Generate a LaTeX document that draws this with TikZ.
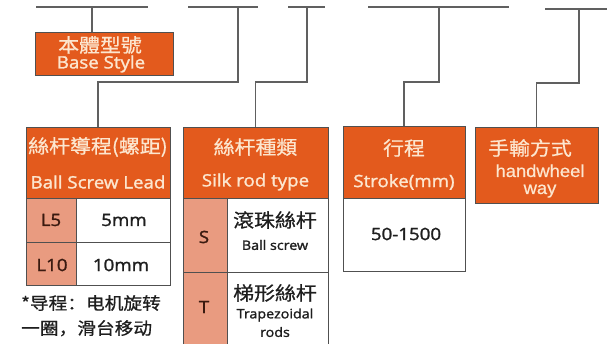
\documentclass[tikz,border=0pt]{standalone}
\usepackage{fontspec}
\setmainfont{Open Sans}[FakeStretch=1.1, FakeBold=1.6]
\newfontfamily\cjk{Noto Sans CJK TC}[FakeStretch=1.1, FakeBold=0.8]
\newfontfamily\cjksc{Noto Sans CJK SC}[FakeStretch=1.1, FakeBold=0.8]
\newfontfamily\arialf{Liberation Sans}[FakeStretch=1.05, FakeBold=0.6]
\definecolor{hdrorange}{HTML}{E35A1D}
\definecolor{keypink}{HTML}{E99B80}
\definecolor{hdrtext}{HTML}{FCE6CF}
\definecolor{edgegray}{HTML}{505050}
\definecolor{linegray}{HTML}{606060}
\definecolor{inktext}{HTML}{1E1E1E}
\definecolor{keytext}{HTML}{3A1A10}
\tikzset{
  conn/.style={draw=linegray, line width=1.1pt},
  boxbase/.style={rectangle, anchor=north west, inner sep=0pt, outer sep=0pt, draw=edgegray, line width=0.9pt},
  hdrbox/.style={boxbase, fill=hdrorange},
  keybox/.style={boxbase, fill=keypink},
  valbox/.style={boxbase, fill=white},
  cjkhdr/.style={text=hdrtext, font=\cjk\fontsize{19}{22}\selectfont, inner sep=0pt},
  enhdr/.style={text=hdrtext, font=\fontsize{17}{20}\selectfont, inner sep=0pt},
  keytxt/.style={text=keytext, font=\fontsize{17}{20}\selectfont, inner sep=0pt},
  valtxt/.style={text=inktext, font=\fontsize{17}{20}\selectfont, inner sep=0pt},
  cjkval/.style={text=inktext, font=\cjk\fontsize{19}{22}\selectfont, inner sep=0pt},
  smallval/.style={text=inktext, font=\fontsize{13}{15}\selectfont, inner sep=0pt},
  handtxt/.style={text=hdrtext, font=\arialf\fontsize{17.5}{16}\selectfont, inner sep=0pt},
}
\begin{document}
\begin{tikzpicture}[x=1pt,y=-1pt]
\useasboundingbox (0,0) rectangle (607,344);

% ---- boxes ----
\node[hdrbox, minimum width=138pt, minimum height=43pt] (base) at (35,32) {};
\node[hdrbox, minimum width=144pt, minimum height=71pt] (lead) at (26,127) {};
\node[keybox, minimum width=50pt, minimum height=44pt] (l5k) at (26,198) {};
\node[valbox, minimum width=94pt, minimum height=44pt] (l5v) at (76,198) {};
\node[keybox, minimum width=50pt, minimum height=43pt] (l10k) at (26,242) {};
\node[valbox, minimum width=94pt, minimum height=43pt] (l10v) at (76,242) {};

\node[hdrbox, minimum width=145pt, minimum height=71pt] (silk) at (183,127) {};
\node[keybox, minimum width=44pt, minimum height=74pt] (sk) at (183,198) {};
\node[valbox, minimum width=101pt, minimum height=74pt] (sv) at (227,198) {};
\node[keybox, minimum width=44pt, minimum height=74pt] (tk) at (183,272) {};
\node[valbox, minimum width=101pt, minimum height=74pt] (tv) at (227,272) {};

\node[hdrbox, minimum width=122pt, minimum height=72pt] (stroke) at (343,126) {};
\node[valbox, minimum width=122pt, minimum height=73pt] (strokev) at (343,198) {};

\node[hdrbox, minimum width=123pt, minimum height=76pt] (hand) at (475,127) {};

% ---- texts ----
\node[cjkhdr] (basecn) at (100,45) {本體型號};
\node[enhdr] (baseen) at (101,64) {Base Style};

\node[cjkhdr] (leadcn) at (98,147) {絲杆導程(螺距)};
\node[enhdr] (leaden) at (98,182) {Ball Screw Lead};
\node[keytxt] (l5t) at (51,220) {L5};
\node[valtxt] (l5vt) at (124,220) {5mm};
\node[keytxt] (l10t) at (52,265) {L10};
\node[valtxt] (l10vt) at (121,265) {10mm};

\node[cjkhdr] (silkcn) at (255.5,147) {絲杆種類};
\node[enhdr] (silken) at (255.5,182) {Silk rod type};
\node[keytxt] (st) at (204,237) {S};
\node[cjkval] (scn) at (275,220) {滾珠絲杆};
\node[smallval] (sen) at (275,245) {Ball screw};
\node[keytxt] (tt) at (204,307) {T};
\node[cjkval] (tcn) at (275,293) {梯形絲杆};
\node[smallval] (ten) at (275,315) {Trapezoidal};
\node[smallval] (ten2) at (275,332) {rods};

\node[cjkhdr] (strokecn) at (404,148) {行程};
\node[enhdr] (strokeen) at (404,182) {Stroke(mm)};
\node[valtxt] (strokevt) at (406,234) {50-1500};

\node[cjkhdr] (handcn) at (530,148) {手輸方式};
\node[handtxt, anchor=base] (handen) at (540,177) {handwheel};
\node[handtxt, anchor=base] (handen2) at (540,194) {way};

\node[text=inktext, font=\cjksc\fontsize{17}{25}\selectfont, align=left, anchor=north west, inner sep=0pt] (note) at (21,295) {*导程：电机旋转\\一圈，滑台移动};

% ---- connectors ----
\coordinate (a1) at (36,7);  \coordinate (b1) at (148,7); \coordinate (j1) at (92,7);
\coordinate (a2) at (188,7); \coordinate (b2) at (258,7); \coordinate (j2) at (238,7);
\coordinate (a3) at (288,7); \coordinate (b3) at (325,7); \coordinate (j3) at (307,7);
\coordinate (a4) at (368,7); \coordinate (b4) at (509,7); \coordinate (j4) at (439,7);
\coordinate (a5) at (545,9); \coordinate (b5) at (607,9); \coordinate (j5) at (579,9);

\draw[conn] (a1) -- (b1);
\draw[conn] (a2) -- (b2);
\draw[conn] (a3) -- (b3);
\draw[conn] (a4) -- (b4);
\draw[conn] (a5) -- (b5);

\draw[conn] (j1) -- (j1 |- base.north);
\draw[conn] (j2) -- ++(0,75) -| (lead.north);
\draw[conn] (j3) -- ++(0,75) -| (silk.north);
\draw[conn] (j4) -- ++(0,75) -| (stroke.north);
\draw[conn] (j5) -- ++(0,74) -| (hand.north);
\end{tikzpicture}
\end{document}
